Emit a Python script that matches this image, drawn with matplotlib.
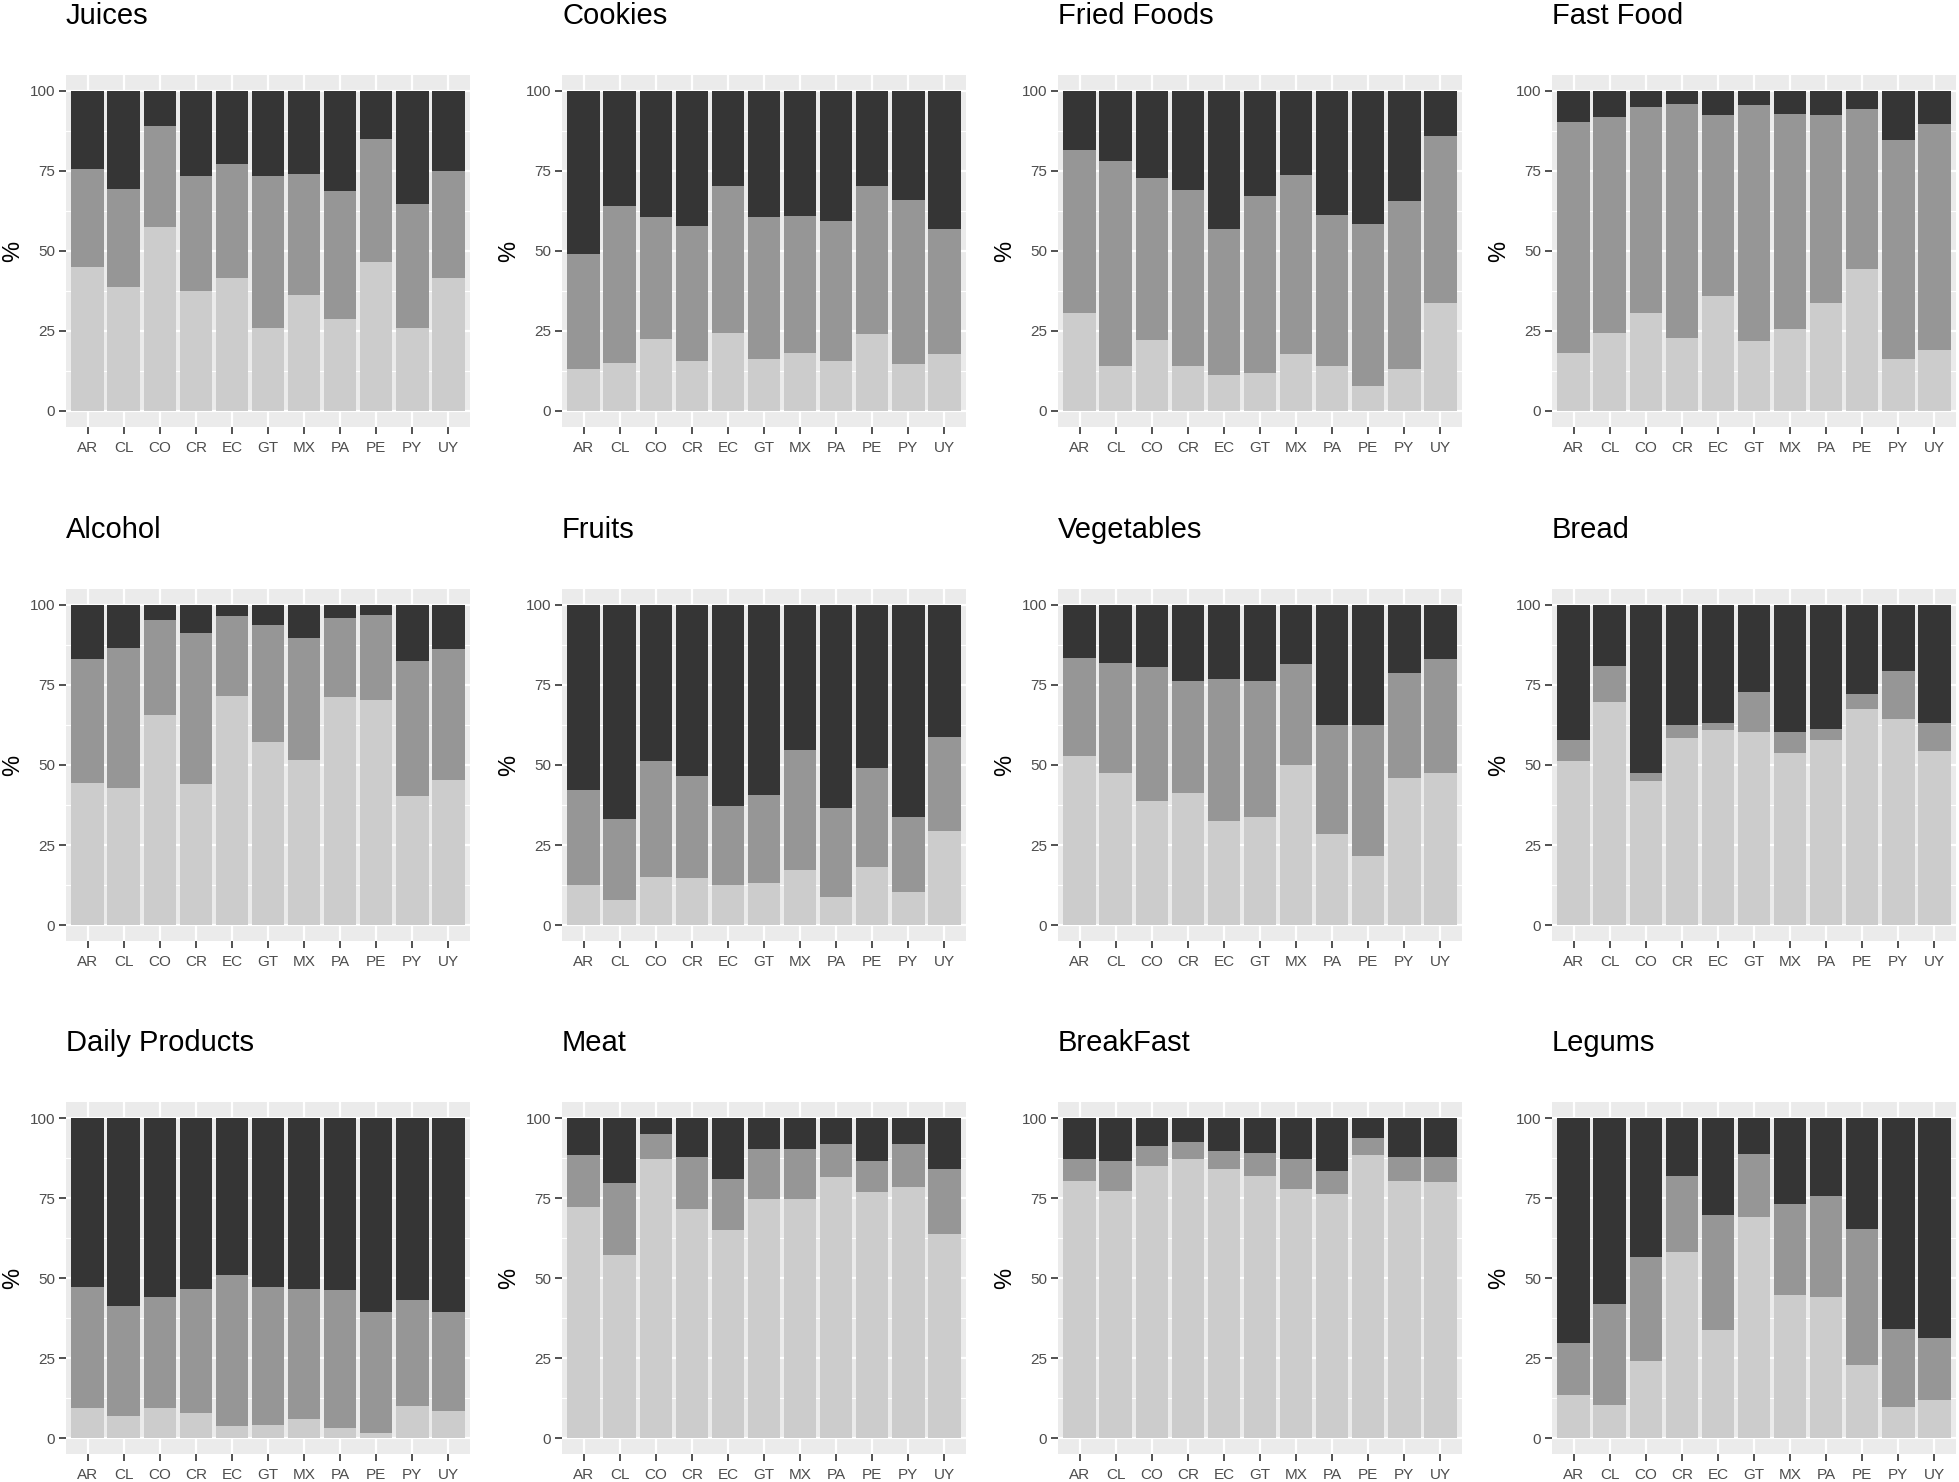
import numpy as np
import matplotlib
matplotlib.use("Agg")
import matplotlib.pyplot as plt

plt.rcParams["font.family"] = ["Liberation Sans", "DejaVu Sans"]

countries = ["AR", "CL", "CO", "CR", "EC", "GT", "MX", "PA", "PE", "PY", "UY"]

# cumulative % : top of light segment, top of medium segment (dark fills to 100)
juices_low = [45.1, 38.9, 57.6, 37.4, 41.5, 25.9, 36.4, 28.6, 46.7, 25.9, 41.5]
juices_mid = [75.5, 69.4, 89.1, 73.5, 77.1, 73.5, 74.1, 68.9, 84.9, 64.7, 75.1]
cookies_low = [13.1, 15.1, 22.4, 15.6, 24.5, 16.1, 18.2, 15.6, 24.0, 14.6, 17.7]
cookies_mid = [49.2, 64.2, 60.6, 57.9, 70.4, 60.6, 61.0, 59.5, 70.4, 65.8, 57.0]
fried_low = [30.7, 14.0, 22.3, 14.0, 11.4, 12.0, 17.7, 14.0, 7.9, 13.0, 33.7]
fried_mid = [81.6, 78.0, 72.8, 69.2, 56.9, 67.2, 73.8, 61.4, 58.4, 65.7, 85.8]
fast_low = [18.2, 24.4, 30.7, 22.9, 35.8, 21.8, 25.5, 33.7, 44.5, 16.1, 19.2]
fast_mid = [90.3, 91.9, 95.0, 96.0, 92.4, 95.5, 92.9, 92.4, 94.5, 84.7, 89.8]
alcohol_low = [44.4, 42.8, 65.6, 44.0, 71.7, 57.3, 51.7, 71.2, 70.2, 40.3, 45.4]
alcohol_mid = [83.2, 86.6, 95.4, 91.4, 96.6, 93.9, 89.8, 95.9, 97.0, 82.6, 86.2]
fruits_low = [12.5, 7.8, 15.1, 14.6, 12.5, 13.0, 17.2, 8.8, 18.1, 10.4, 29.4]
fruits_mid = [42.3, 33.1, 51.1, 46.5, 37.1, 40.7, 54.7, 36.7, 49.1, 33.6, 58.8]
veg_low = [52.7, 47.5, 38.8, 41.3, 32.5, 33.6, 50.1, 28.4, 21.7, 45.9, 47.5]
veg_mid = [83.5, 82.0, 80.5, 76.4, 76.9, 76.4, 81.5, 62.5, 62.5, 78.9, 83.1]
bread_low = [51.1, 69.6, 44.9, 58.3, 60.9, 60.4, 53.7, 57.8, 67.6, 64.4, 54.3]
bread_mid = [57.8, 81.0, 47.5, 62.5, 63.0, 72.8, 60.4, 61.4, 72.2, 79.4, 63.0]
dairy_low = [9.4, 6.8, 9.4, 7.8, 3.7, 4.2, 5.8, 3.2, 1.6, 9.9, 8.4]
dairy_mid = [47.2, 41.4, 44.0, 46.7, 50.8, 47.2, 46.7, 46.1, 39.3, 43.0, 39.3]
meat_low = [72.2, 57.1, 87.2, 71.7, 64.9, 74.7, 74.7, 81.5, 76.9, 78.3, 63.8]
meat_mid = [88.3, 79.8, 94.9, 87.8, 80.9, 90.3, 90.3, 91.8, 86.7, 91.8, 84.0]
breakfast_low = [80.4, 77.3, 85.1, 87.2, 84.1, 82.0, 77.8, 76.3, 88.3, 80.4, 79.9]
breakfast_mid = [87.1, 86.6, 91.3, 92.4, 89.7, 89.2, 87.1, 83.5, 93.9, 87.7, 87.7]
legums_low = [13.5, 10.4, 24.0, 58.2, 33.8, 69.0, 44.7, 44.1, 22.9, 9.8, 11.9]
legums_mid = [29.6, 41.8, 56.6, 82.0, 69.6, 88.7, 73.2, 75.7, 65.4, 34.2, 31.1]

titles = ["Juices", "Cookies", "Fried Foods", "Fast Food",
          "Alcohol", "Fruits", "Vegetables", "Bread",
          "Daily Products", "Meat", "BreakFast", "Legums"]
lows = [juices_low, cookies_low, fried_low, fast_low,
        alcohol_low, fruits_low, veg_low, bread_low,
        dairy_low, meat_low, breakfast_low, legums_low]
mids = [juices_mid, cookies_mid, fried_mid, fast_mid,
        alcohol_mid, fruits_mid, veg_mid, bread_mid,
        dairy_mid, meat_mid, breakfast_mid, legums_mid]

W, H = 1959, 1482
fig = plt.figure(figsize=(W / 100, H / 100), dpi=100)

col_left = [66, 562, 1058, 1552]
row_top = [75, 589, 1102]
pw, ph = 404, 352

c_light, c_mid, c_dark = "#CCCCCC", "#969696", "#353535"
x = np.arange(len(countries))

for k, title in enumerate(titles):
    r, c = divmod(k, 4)
    ax = fig.add_axes([col_left[c] / W, 1 - (row_top[r] + ph) / H, pw / W, ph / H])
    ax.set_facecolor("#EBEBEB")
    low = np.array(lows[k])
    mid = np.array(mids[k])
    ax.bar(x, low, width=0.9, color=c_light)
    ax.bar(x, mid - low, bottom=low, width=0.9, color=c_mid)
    ax.bar(x, 100 - mid, bottom=mid, width=0.9, color=c_dark)

    ax.set_xlim(-0.6, len(countries) - 0.4)
    ax.set_ylim(-5, 105)
    ax.set_xticks(x)
    ax.set_xticklabels(countries)
    ax.set_yticks([0, 25, 50, 75, 100])
    ax.set_yticks([12.5, 37.5, 62.5, 87.5], minor=True)
    ax.set_axisbelow(True)
    ax.grid(True, which="major", color="white", linewidth=1.6)
    ax.grid(True, which="minor", axis="y", color="white", linewidth=0.8)
    ax.tick_params(which="major", length=5, width=1.2, color="#333333",
                   labelcolor="#4D4D4D", labelsize=11, pad=3)
    ax.tick_params(axis="x", which="major", pad=5)
    ax.tick_params(which="minor", length=0)
    for s in ax.spines.values():
        s.set_visible(False)
    ax.set_ylabel("%", fontsize=17, labelpad=4)
    ax.set_title(title, loc="left", fontsize=21, pad=37)

fig.savefig("out.png", dpi=100)
